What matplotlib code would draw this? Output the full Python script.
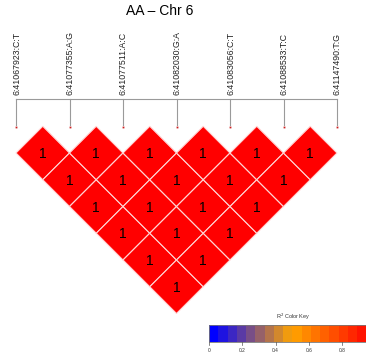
import matplotlib
matplotlib.use("Agg")
import matplotlib.pyplot as plt
import numpy as np
from matplotlib.patches import Polygon, Rectangle
from matplotlib.colors import LinearSegmentedColormap

plt.rcParams['font.family'] = ['Liberation Sans', 'DejaVu Sans']

# SNP names and pairwise R^2 (upper triangle, row i vs columns i+1..)
snps = ["6:41067923:C:T", "6:41077355:A:G", "6:41077511:A:C", "6:41082030:G:A",
        "6:41083056:C:T", "6:41088533:T:C", "6:41147490:T:G"]
r2 = [
    [1, 1, 1, 1, 1, 1],
    [1, 1, 1, 1, 1],
    [1, 1, 1, 1],
    [1, 1, 1],
    [1, 1],
    [1],
]
key_ticks = [0, 0.2, 0.4, 0.6, 0.8]
n_colors = 18

cmap = LinearSegmentedColormap.from_list("ld", ["blue", "orange", "red"])
palette = [cmap(k / (n_colors - 1)) for k in range(n_colors)]

def ld_color(v):
    return palette[min(int(v * n_colors), n_colors - 1)]

fig = plt.figure(figsize=(3.66, 3.6), dpi=100)
ax = fig.add_axes([0, 0, 1, 1])
ax.set_xlim(0, 366)
ax.set_ylim(360, 0)
ax.axis("off")

# marker positions along the map
x0, step = 16, 53.5
xs = x0 + step * np.arange(len(snps))
line_y, dot_y = 99, 127
h = step / 2
top_y = 153

ax.plot([xs[0], xs[-1]], [line_y, line_y], color="#9a9a9a", lw=0.8)
for x, name in zip(xs, snps):
    ax.plot([x, x], [line_y, dot_y - 2], color="#9a9a9a", lw=0.8)
    ax.plot(x, dot_y, "s", ms=1.3, color="#cc2020", mew=0)
    ax.text(x + 0.5, line_y - 4, name, rotation=90, ha="center", va="bottom",
            fontsize=6.3, color="#222222")

# heatmap diamonds
for i, row in enumerate(r2):
    for k, v in enumerate(row):
        j = i + k + 1
        cx = (xs[i] + xs[j]) / 2
        cy = top_y + (j - i - 1) * h
        pts = [(cx, cy - h), (cx + h, cy), (cx, cy + h), (cx - h, cy)]
        ax.add_patch(Polygon(pts, closed=True, facecolor=ld_color(v),
                             edgecolor="#ffd6d6", lw=0.8))
        ax.text(cx, cy + 1, f"{v:g}", ha="center", va="center", fontsize=10)

ax.text(160, 11, "AA \u2013 Chr 6", ha="center", va="center", fontsize=10)

# colour key
kx0, kscale = 209, 166.5
ky0, ky1 = 325, 342
for k, c in enumerate(palette):
    ax.add_patch(Rectangle((kx0 + kscale * k / n_colors, ky0), kscale / n_colors,
                           ky1 - ky0, facecolor=c, edgecolor="none"))
ax.add_patch(Rectangle((kx0, ky0), kscale, ky1 - ky0, facecolor="none",
                       edgecolor="#777777", lw=0.6))
for t in key_ticks:
    tx = kx0 + kscale * t
    ax.plot([tx, tx], [ky1, ky1 + 2.5], color="#555555", lw=0.5)
    ax.text(tx, ky1 + 9, f"{t:g}", ha="center", va="center", fontsize=3.5,
            color="#333333")
ax.text(293, 317, r"R$^2$ Color Key", ha="center", va="center", fontsize=4,
        color="#333333")

fig.savefig("out.png", dpi=100)
